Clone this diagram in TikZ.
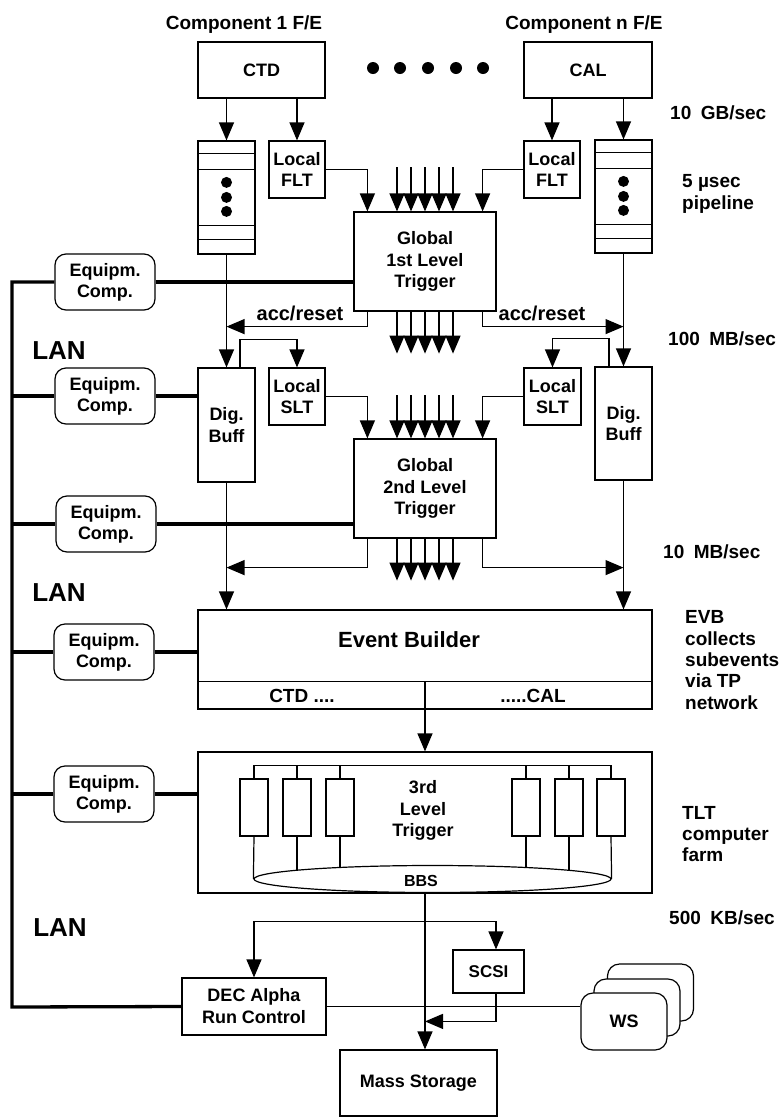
\documentclass[tikz,border=0pt]{standalone}
\usepackage{fontspec}
\setmainfont{Liberation Sans}
\usetikzlibrary{arrows.meta,calc,shapes.geometric}
\newcommand\myfs[2]{\fontsize{#1}{#2}\selectfont\bfseries}
\begin{document}
\begin{tikzpicture}[x=1pt,y=-1pt,
  box/.style={draw,line width=1.2pt,inner sep=0pt,align=center,font=\myfs{18}{21.5}},
  eqbox/.style={box,rounded corners=11pt,minimum width=100pt,minimum height=56pt,font=\myfs{18}{21}},
  wsbox/.style={box,rounded corners=12pt,minimum width=86pt,minimum height=57pt,fill=white},
  farm/.style={box,minimum width=28pt,minimum height=57pt},
  conn/.style={line width=1.2pt},
  arr/.style={conn,-{Triangle[length=18pt,width=15pt]}},
  darr/.style={conn,{Triangle[length=18pt,width=15pt]}-{Triangle[length=18pt,width=15pt]}},
  lan/.style={line width=3.3pt},
  txt/.style={inner sep=0pt,align=center,font=\myfs{18}{21.5}},
  lbl/.style={inner sep=0pt,align=left,anchor=west,font=\myfs{19}{21.3}},
  lanlbl/.style={inner sep=0pt,font=\myfs{26}{30}}]
\useasboundingbox (0,0) rectangle (783,1117);

% ---------- front ends ----------
\node[txt,font=\myfs{19}{22}] (c1lab) at (244,25) {Component 1 F/E};
\node[txt,font=\myfs{19}{22}] (cnlab) at (584,25) {Component n F/E};
\node[box,minimum width=127pt,minimum height=56pt] (ctd) at (261.5,70) {CTD};
\node[box,minimum width=128pt,minimum height=56pt] (cal) at (588,70) {CAL};
\foreach \x [count=\i] in {373,400,428,456,483}
  \node[circle,fill,inner sep=0pt,minimum size=12pt] (dot\i) at (\x,68) {};

% ---------- pipelines ----------
\node[box,minimum width=57pt,minimum height=113pt] (pipeL) at (226.5,197.5) {};
\node[box,minimum width=57pt,minimum height=113pt] (pipeR) at (623.5,196.5) {};
\foreach \p in {pipeL,pipeR}{
  \foreach \dy in {13,29,85,99}
    \draw[conn] ($(\p.north west)+(0,\dy)$) -- ($(\p.north east)+(0,\dy)$);
  \foreach \dy in {42,57,71}
    \fill ($(\p.north)+(0,\dy)$) circle[radius=5.5pt];
}

% ---------- local FLT ----------
\node[box,minimum width=56pt,minimum height=57pt] (fltL) at (297,169.5) {Local\\FLT};
\node[box,minimum width=56pt,minimum height=57pt] (fltR) at (552,169.5) {Local\\FLT};

% ---------- global 1st level ----------
\node[box,minimum width=142pt,minimum height=99pt] (glob1) at (425,261.5) {Global\\1st Level\\Trigger};

\draw[arr] (ctd.south -| pipeL.north) -- (pipeL.north);
\draw[arr] (ctd.south -| fltL.north) -- (fltL.north);
\draw[arr] (cal.south -| fltR.north) -- (fltR.north);
\draw[arr] (cal.south -| pipeR.north) -- (pipeR.north);
\draw[arr] (fltL.east) -| ($(glob1.north west)+(14,0)$);
\draw[arr] (fltR.west) -| ($(glob1.north east)+(-14,0)$);
\foreach \dx in {-28,-14,0,14,28}{
  \draw[arr] ($(glob1.north)+(\dx,-44)$) -- ($(glob1.north)+(\dx,0)$);
  \draw[arr] ($(glob1.south)+(\dx,0)$) -- ($(glob1.south)+(\dx,42)$);
}

% acc/reset
\coordinate (accL) at ($(pipeL.south)+(0,72)$);
\coordinate (accR) at ($(pipeR.south)+(0,73)$);
\draw[arr] ($(glob1.south west)+(14,0)$) |- (accL);
\draw[arr] ($(glob1.south east)+(-14,0)$) |- (accR);
\node[txt,font=\myfs{20}{22}] (accLlab) at (300,313) {acc/reset};
\node[txt,font=\myfs{20}{22}] (accRlab) at (542,313) {acc/reset};

% ---------- dig buffers / SLT ----------
\node[box,minimum width=57pt,minimum height=114pt] (digL) at (226.5,425) {Dig.\\Buff};
\node[box,minimum width=57pt,minimum height=113pt] (digR) at (623.5,423.5) {Dig.\\Buff};
\node[box,minimum width=56pt,minimum height=57pt] (sltL) at (297,396.5) {Local\\SLT};
\node[box,minimum width=57pt,minimum height=57pt] (sltR) at (552.5,396.5) {Local\\SLT};
\node[box,minimum width=142pt,minimum height=99pt] (glob2) at (425,488.5) {Global\\2nd Level\\Trigger};

\draw[arr] (pipeL.south) -- (digL.north);
\draw[arr] (pipeR.south) -- (digR.north);
\draw[arr] ($(digL.north)+(13.5,0)$) |- ($(sltL.north)+(0,-28)$) -- (sltL.north);
\draw[arr] ($(digR.north)+(-14.5,0)$) |- ($(sltR.north)+(0,-29)$) -- (sltR.north);
\draw[arr] (sltL.east) -| ($(glob2.north west)+(14,0)$);
\draw[arr] (sltR.west) -| ($(glob2.north east)+(-14,0)$);
\foreach \dx in {-28,-14,0,14,28}{
  \draw[arr] ($(glob2.north)+(\dx,-43)$) -- ($(glob2.north)+(\dx,0)$);
  \draw[arr] ($(glob2.south)+(\dx,0)$) -- ($(glob2.south)+(\dx,42)$);
}
\coordinate (acc2L) at ($(digL.south)+(0,85)$);
\coordinate (acc2R) at ($(digR.south)+(0,87)$);
\draw[arr] ($(glob2.south west)+(14,0)$) |- (acc2L);
\draw[arr] ($(glob2.south east)+(-14,0)$) |- (acc2R);

% ---------- event builder ----------
\node[box,minimum width=454pt,minimum height=99pt] (eb) at (425,659.5) {};
\draw[conn] ($(eb.south west)+(0,-28)$) -- ($(eb.south east)+(0,-28)$);
\draw[conn] ($(eb.south)+(0,-28)$) -- (eb.south);
\node[txt,font=\myfs{22}{26}] (ebtxt) at (409,640) {Event Builder};
\node[txt,font=\myfs{19}{22}] (ebctd) at (302,696) {CTD ....};
\node[txt,font=\myfs{19}{22}] (ebcal) at (533,696) {.....CAL};
\draw[arr] (digL.south) -- (digL.south |- eb.north);
\draw[arr] (digR.south) -- (digR.south |- eb.north);

% ---------- third level trigger ----------
\node[box,minimum width=454pt,minimum height=141pt] (tlt) at (425,822.5) {};
\draw[arr] (eb.south) -- (tlt.north);
\foreach \x [count=\i] in {254,297,340,526,569,611}
  \node[farm] (f\i) at (\x,807.5) {};
\draw[conn] ($(f1.north)+(0,-13)$) -- ($(f6.north)+(0,-13)$);
\foreach \i in {1,...,6}
  \draw[conn] (f\i.north) -- ++(0,-13);
\node[draw,line width=1.2pt,ellipse,inner sep=0pt,minimum width=357pt,minimum height=27pt] (bbs) at (432.5,879) {};
\draw[conn] (f1.south) -- (bbs.west);
\draw[conn] (f6.south) -- (bbs.east);
\draw[conn] (f2.south) -- ++(0,34);
\draw[conn] (f3.south) -- ++(0,31.5);
\draw[conn] (f4.south) -- ++(0,31.5);
\draw[conn] (f5.south) -- ++(0,34);
\node[txt] (tlttxt) at (423,810.5) {3rd\\Level\\Trigger};
\node[txt,font=\myfs{16}{18}] (bbstxt) at (421,881) {BBS};

% ---------- bottom ----------
\node[box,minimum width=157pt,minimum height=66pt] (ms) at (418.5,1083) {Mass Storage};
\node[box,minimum width=71pt,minimum height=43pt,font=\myfs{17}{20}] (scsi) at (488.5,971.5) {SCSI};
\node[box,minimum width=144pt,minimum height=57pt,font=\myfs{18}{22}] (dec) at (254,1006.5) {DEC Alpha\\Run Control};
\node[wsbox] (ws3) at (650.5,992.5) {};
\node[wsbox] (ws2) at (637,1007.5) {};
\node[wsbox] (ws1) at (624,1021.5) {WS};

\draw[arr] (tlt.south) -- (tlt.south |- ms.north);
\draw[darr] (dec.north) |- ($(scsi.north)+(7.5,-28)$) -- ($(scsi.north)+(7.5,0)$);
\coordinate (msIn) at ($(ms.north -| tlt.south)+(0,-28)$);
\draw[arr] ($(scsi.south)+(7.5,0)$) |- (msIn);
\draw[conn] (dec.east) -- (dec.east -| ws1.west);

% ---------- LAN ----------
\node[eqbox] (eq1) at (105,282) {Equipm.\\Comp.};
\node[eqbox] (eq2) at (105,396) {Equipm.\\Comp.};
\node[eqbox] (eq3) at (106,524) {Equipm.\\Comp.};
\node[eqbox] (eq4) at (104,652) {Equipm.\\Comp.};
\node[eqbox] (eq5) at (104,794) {Equipm.\\Comp.};
\coordinate (lanTop) at (12,282);
\coordinate (lanBot) at (12,1007);
\draw[lan] (eq1.west) -- (lanTop) -- (lanBot) -- (dec.west);
\foreach \e in {eq2,eq3,eq4,eq5}
  \draw[lan] (\e.west -| lanTop) -- (\e.west);
\draw[lan] (eq1.east) -- (eq1.east -| glob1.west);
\draw[lan] (eq2.east) -- (eq2.east -| digL.west);
\draw[lan] (eq3.east) -- (eq3.east -| glob2.west);
\draw[lan] (eq4.east) -- (eq4.east -| eb.west);
\draw[lan] (eq5.east) -- (eq5.east -| tlt.west);
\node[lanlbl] (lan1) at (59,351) {LAN};
\node[lanlbl] (lan2) at (59,593) {LAN};
\node[lanlbl] (lan3) at (60,928) {LAN};

% ---------- right labels ----------
\node[lbl] (r1) at (670,113) {10\hspace{.5em}GB/sec};
\node[lbl] (r2) at (682,194) {5 µsec\\pipeline};
\node[lbl] (r3) at (668,339) {100\hspace{.5em}MB/sec};
\node[lbl] (r4) at (663,552) {10\hspace{.5em}MB/sec};
\node[lbl] (r5) at (685,660) {EVB\\collects\\subevents\\via TP\\network};
\node[lbl] (r6) at (682,834) {TLT\\computer\\farm};
\node[lbl] (r7) at (669,918) {500\hspace{.5em}KB/sec};
\end{tikzpicture}
\end{document}
